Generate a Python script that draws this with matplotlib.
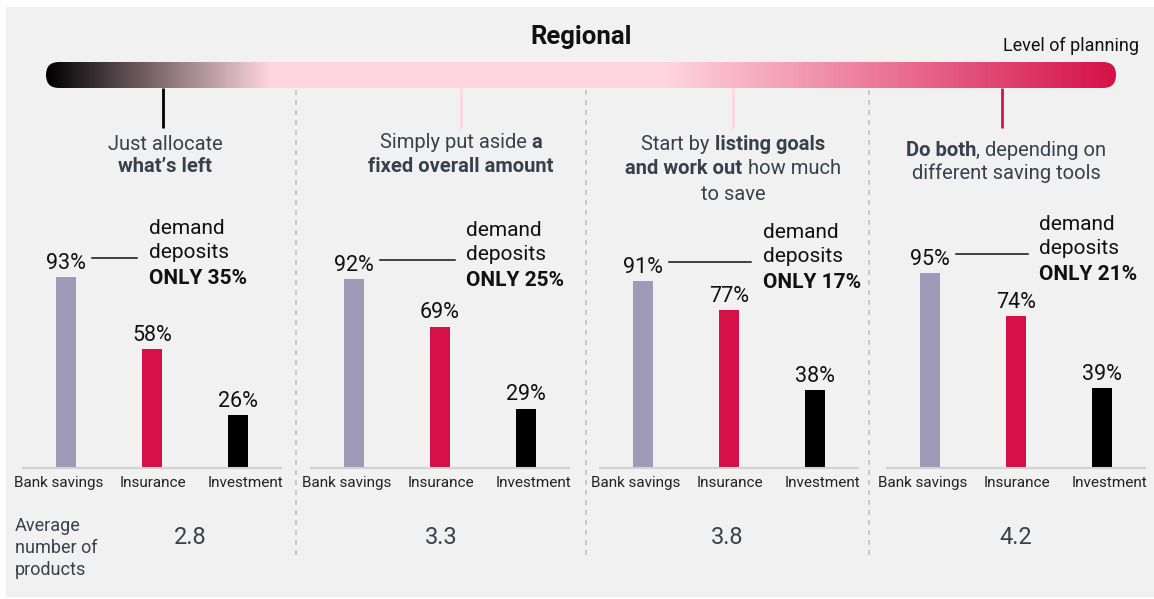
import numpy as np
import matplotlib
matplotlib.use('Agg')
import matplotlib.pyplot as plt
from matplotlib.patches import Rectangle, FancyBboxPatch

plt.rcParams['font.family'] = ['Roboto', 'DejaVu Sans']

# ---- data ----
categories = ['Bank savings', 'Insurance', 'Investment']
bank_savings = [93, 92, 91, 95]
insurance = [58, 69, 77, 74]
investment = [26, 29, 38, 39]
demand_deposits = [35, 25, 17, 21]
avg_products = [2.8, 3.3, 3.8, 4.2]
descriptions = [
    [[('Just allocate', 'normal')], [("what\u2019s left", 'bold')]],
    [[('Simply put aside', 'normal'), ('a', 'bold')], [('fixed overall amount', 'bold')]],
    [[('Start by', 'normal'), ('listing goals', 'bold')],
     [('and work out', 'bold'), ('how much', 'normal')],
     [('to save', 'normal')]],
    [[('Do both', 'bold'), (', depending on', 'normal')], [('different saving tools', 'normal')]],
]
title = 'Regional'
scale_label = 'Level of planning'
avg_label = 'Average\nnumber of\nproducts'

# ---- layout (pixels) ----
W, H = 1154, 599
BG = '#f1f1f1'
TXT = '#37414b'
bar_colors = ['#a09ab9', '#d51148', '#000000']
panel_left = [23, 311, 600, 887]
panel_width = 258
base_y, top_y = 468, 263
sep_x = [296, 586, 869]
marker_x = [163, 461, 733, 1002]
marker_colors = ['#000000', '#ffd6e0', '#ffd6e0', '#d6154c']
desc_x = [165, 461, 733, 1006]
desc_y = [[144, 166], [142, 166], [145, 169, 194], [150, 173]]
avg_x = [190, 441, 727, 1016]
callout_end = [0.83, 1.17, 1.26, 1.14]
label_shift = [-0.08, 0.01, 0.09]

fig = plt.figure(figsize=(W / 100, H / 100), dpi=100)
fig.patch.set_facecolor('white')
ov = fig.add_axes([0, 0, 1, 1], zorder=0)
ov.set_axis_off()

ov.add_patch(Rectangle((6, 7), W - 6, 590, color=BG, lw=0, zorder=0))

# gradient scale bar
stops_x = [46, 270, 663, 1116]
stops_c = np.array([[0, 0, 0], [255, 214, 224], [255, 214, 224], [213, 17, 72]]) / 255
xs = np.arange(46, 1117)
grad = np.stack([np.interp(xs, stops_x, stops_c[:, k]) for k in range(3)], axis=-1)
img = ov.imshow(grad[np.newaxis, :, :], extent=(46, 1116, 88, 62), aspect='auto',
                interpolation='bilinear', zorder=2)
clip = FancyBboxPatch((46, 62), 1070, 26, boxstyle='round,pad=0,rounding_size=13',
                      transform=ov.transData, fc='none', ec='none')
ov.add_patch(clip)
img.set_clip_path(clip)

for mx, mc in zip(marker_x, marker_colors):
    ov.plot([mx, mx], [88, 128], color=mc, lw=2, solid_capstyle='butt', zorder=3)

for sx in sep_x:
    ov.plot([sx, sx], [90, 557], color='#c2c2c2', lw=1.2, linestyle=(0, (3, 3)), zorder=3)

ov.text(581, 37, title, ha='center', va='center', fontsize=18.5, fontweight='bold', color='#111111')
ov.text(1139, 46, scale_label, ha='right', va='center', fontsize=13, color='#111111')

ov.set_xlim(0, W)
ov.set_ylim(H, 0)

# rich text helper for mixed-weight lines
renderer = fig.canvas.get_renderer()


def text_width(s, weight, size):
    t = ov.text(0, 0, s, fontsize=size, fontweight=weight)
    w = t.get_window_extent(renderer).width
    t.remove()
    return w


def rich_line(cx, cy, parts, size=14.5):
    space = text_width('x x', 'normal', size) - text_width('xx', 'normal', size)
    widths = [text_width(s, wt, size) for s, wt in parts]
    gaps = [0 if parts[i + 1][0].startswith(',') else space for i in range(len(parts) - 1)]
    total = sum(widths) + sum(gaps)
    x = cx - total / 2
    for i, (s, wt) in enumerate(parts):
        ov.text(x, cy, s, ha='left', va='center', fontsize=size, fontweight=wt, color=TXT)
        x += widths[i] + (gaps[i] if i < len(gaps) else 0)


for p, lines in enumerate(descriptions):
    for li, parts in enumerate(lines):
        rich_line(desc_x[p], desc_y[p][li], parts)

# average number of products row
ov.text(15, 548, avg_label, ha='left', va='center', fontsize=13, color=TXT, linespacing=1.3)
for p, v in enumerate(avg_products):
    ov.text(avg_x[p], 537, f'{v:.1f}', ha='center', va='center', fontsize=17, color=TXT)

# bar panels
for p in range(4):
    ax = fig.add_axes([panel_left[p] / W, (H - base_y) / H, panel_width / W, (base_y - top_y) / H],
                      zorder=2)
    ax.patch.set_alpha(0)
    vals = [bank_savings[p], insurance[p], investment[p]]
    ax.bar(range(3), vals, width=0.233, color=bar_colors)
    for i, v in enumerate(vals):
        ax.text(i, v + 1.5, f'{v}%', ha='center', va='bottom', fontsize=15.5, color='#111111')
    # demand deposits callout
    ly = bank_savings[p] + 9.5
    ax.plot([0.3, callout_end[p]], [ly, ly], color='#111111', lw=1.1, clip_on=False)
    tx = callout_end[p] + 0.13
    ax.text(tx, ly + 2.5, 'deposits', ha='left', va='center', fontsize=15, color='#111111')
    ax.text(tx, ly + 14.5, 'demand', ha='left', va='center', fontsize=15, color='#111111')
    ax.text(tx, ly - 10, f'ONLY {demand_deposits[p]}%', ha='left', va='center', fontsize=15,
            fontweight='bold', color='#111111')
    ax.set_xlim(-0.5, 2.5)
    ax.set_ylim(0, 100)
    ax.set_xticks([i + s for i, s in enumerate(label_shift)])
    ax.set_xticklabels(categories, fontsize=11, color='#222222')
    ax.tick_params(axis='x', length=0, pad=6)
    ax.set_yticks([])
    for s in ['top', 'left', 'right']:
        ax.spines[s].set_visible(False)
    ax.spines['bottom'].set_color('#d2d2d2')
    ax.spines['bottom'].set_linewidth(1.5)

fig.savefig('out.png', dpi=100, facecolor=fig.get_facecolor())
